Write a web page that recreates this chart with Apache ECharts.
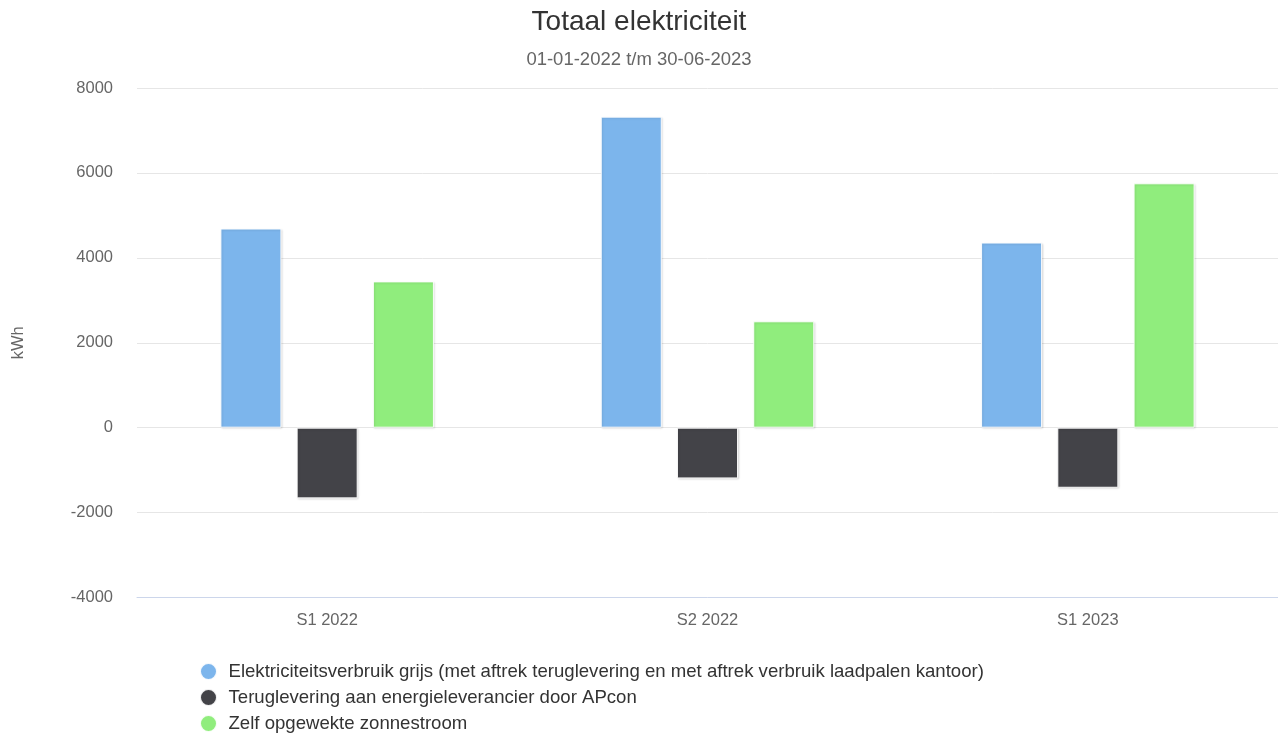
<!DOCTYPE html>
<html>
<head>
<meta charset="utf-8">
<script src="https://cdn.jsdelivr.net/npm/echarts@6/dist/echarts.min.js"></script>
<style>html,body{margin:0;padding:0;background:#fff}#c{width:1278px;height:736px}</style>
</head>
<body>
<div id="c"></div>
<script>
const categories = ['S1 2022', 'S2 2022', 'S1 2023'];
const seriesNames = [
  'Elektriciteitsverbruik grijs (met aftrek teruglevering en met aftrek verbruik laadpalen kantoor)',
  'Teruglevering aan energieleverancier door APcon',
  'Zelf opgewekte zonnestroom'
];
const verbruik = [4690, 7325, 4360];
const teruglevering = [-1665, -1195, -1415];
const zonnestroom = [3445, 2505, 5755];
const colors = ['#7cb5ec', '#434348', '#90ed7d'];

const font = 'Liberation Sans, Arial, sans-serif';
const chart = echarts.init(document.getElementById('c'));
const mk = (name, data, color) => ({
  name, type: 'bar', data,
  barWidth: 61, barGap: '25%',
  itemStyle: { color, borderColor: 'rgba(255,255,255,0.9)', borderWidth: 1,
    shadowColor: 'rgba(0,0,0,0.12)', shadowBlur: 2, shadowOffsetX: 1, shadowOffsetY: 1 },
  emphasis: { disabled: true }
});
const legendTops = [662, 688, 714];
chart.setOption({
  animation: false,
  title: [
    { text: 'Totaal elektriciteit', left: 'center', top: 3,
      textStyle: { fontFamily: font, fontSize: 28, fontWeight: 'normal', color: '#333' } },
    { text: '01-01-2022 t/m 30-06-2023', left: 'center', top: 50, padding: 0,
      textStyle: { fontFamily: font, fontSize: 18.5, fontWeight: 'normal', color: '#666' } }
  ],
  legend: seriesNames.map((n, i) => ({
    orient: 'vertical', left: 199, top: legendTops[i], padding: 0, icon: 'circle',
    itemWidth: 30, itemHeight: 17,
    textStyle: { fontFamily: font, fontSize: 18.6, color: '#333' },
    data: [n]
  })),
  grid: { left: 137, right: 0, top: 88, bottom: 138.5, containLabel: false },
  xAxis: {
    type: 'category', data: categories,
    axisLine: { onZero: false, lineStyle: { color: '#ccd6eb' } },
    axisTick: { show: false },
    axisLabel: { fontFamily: font, fontSize: 16.5, color: '#666', margin: 14 }
  },
  yAxis: {
    type: 'value', min: -4000, max: 8000, interval: 2000,
    name: 'kWh', nameLocation: 'middle', nameGap: 110, nameRotate: 90,
    nameTextStyle: { fontFamily: font, fontSize: 16.5, color: '#666' },
    axisLine: { show: false }, axisTick: { show: false },
    axisLabel: { fontFamily: font, fontSize: 16.5, color: '#666', margin: 24,
      formatter: v => String(v) },
    splitLine: { lineStyle: { color: '#e6e6e6' } }
  },
  series: [
    mk(seriesNames[0], verbruik, colors[0]),
    mk(seriesNames[1], teruglevering, colors[1]),
    mk(seriesNames[2], zonnestroom, colors[2])
  ]
});
</script>
</body>
</html>
